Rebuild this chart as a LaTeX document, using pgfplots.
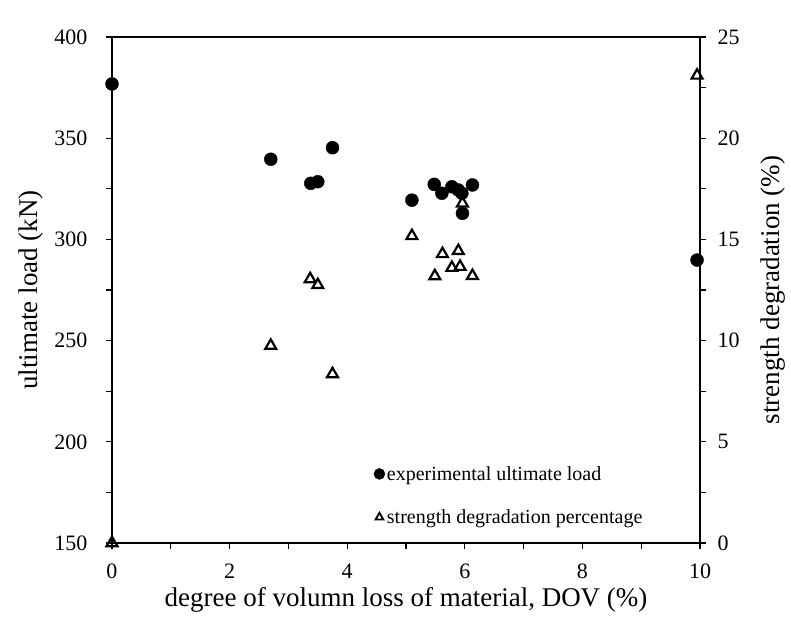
\documentclass[border=0pt]{standalone}
\usepackage{fontspec}
\setmainfont{Liberation Serif}
\usepackage{pgfplots}
\pgfplotsset{compat=1.18}
\begin{document}
\begin{tikzpicture}[x=1pt,y=1pt]
\useasboundingbox (-112pt,-76pt) rectangle (679pt,543pt);
\pgfplotsset{every axis/.style={
  scale only axis, width=588pt, height=506pt, at={(0pt,0pt)}, anchor=south west,
  xmin=0, xmax=10, clip=false,
  /pgf/number format/assume math mode=true,
  tick label style={font=\fontsize{22}{26}\selectfont},
  label style={font=\fontsize{27}{32}\selectfont},
  axis line style={line width=1.3pt}, tick style={line width=1.3pt, black},
  major tick length=6pt, minor tick length=6pt, tick align=outside,
}}
\begin{axis}[
  ymin=150, ymax=400, ytick={150,200,...,400}, minor y tick num=1,
  xtick={0,2,...,10}, minor x tick num=1, xtick pos=bottom, ytick pos=left,
  xticklabel style={yshift=-11pt},
  yticklabel style={xshift=-15pt},
  xlabel={degree of volumn loss of material, DOV (\%)},
  ylabel={ultimate load (kN)},
  xlabel style={at={(axis description cs:0.5,-0.113)}, anchor=center},
  ylabel style={at={(axis description cs:-0.137,0.5)}, anchor=center},
]
\addplot[only marks, mark=*, mark size=6.5pt, black] coordinates {
(0,376.8) (2.70,339.6) (3.38,327.7) (3.50,328.5) (3.75,345.3)
(5.10,319.4) (5.48,327.2) (5.61,322.8) (5.78,326.0) (5.89,324.4)
(5.95,322.8) (5.96,312.9) (6.13,326.9) (9.95,289.8)};
\end{axis}
\begin{axis}[
  ymin=0, ymax=25, ytick={0,5,...,25}, minor y tick num=1,
  xtick=\empty, ytick pos=right,
  yticklabel style={xshift=8pt},
  ylabel={strength degradation (\%)},
  ylabel style={at={(axis description cs:1.124,0.5)}, anchor=center},
  legend style={draw=none, fill=none, at={(axis description cs:0.44,0.16)}, anchor=north west,
    font=\fontsize{20}{24}\selectfont, row sep=24pt,
    /tikz/every even column/.append style={column sep=5pt}},
  legend cell align=left,
]
\addlegendimage{only marks, mark=*, mark size=5.5pt, black}
\addlegendentry{experimental ultimate load}
\addlegendimage{only marks, mark=triangle, mark size=4.5pt, black, line width=1.8pt}
\addlegendentry{strength degradation percentage}
\addplot[only marks, mark=triangle, mark size=6.3pt, black, line width=2.2pt, forget plot] coordinates {
(0,0) (2.70,9.75) (3.37,13.04) (3.50,12.75) (3.75,8.35)
(5.10,15.17) (5.49,13.19) (5.62,14.28) (5.78,13.6) (5.89,14.43)
(5.92,13.65) (5.96,16.78) (6.13,13.2) (9.95,23.1)};
\end{axis}
\end{tikzpicture}
\end{document}
